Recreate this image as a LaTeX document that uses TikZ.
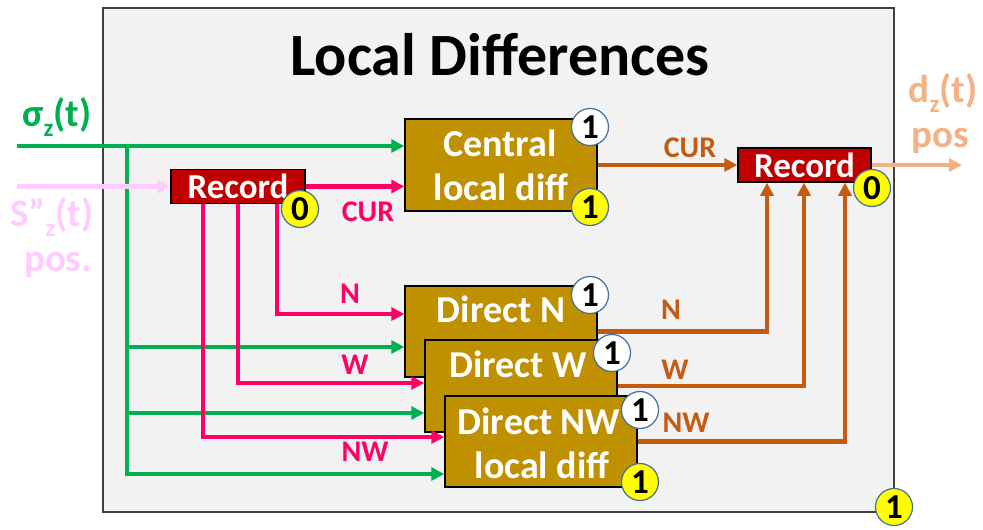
\documentclass[tikz,border=0pt]{standalone}
\usepackage{fontspec}
\setmainfont{Carlito}
\usetikzlibrary{arrows.meta,calc}

\definecolor{panel}{HTML}{F2F2F2}
\definecolor{frame}{HTML}{404040}
\definecolor{sig}{HTML}{00B050}
\definecolor{hot}{HTML}{FF0066}
\definecolor{rust}{HTML}{C55A11}
\definecolor{peach}{HTML}{F4B183}
\definecolor{lilac}{HTML}{FFCCFF}
\definecolor{gold}{HTML}{BF9000}
\definecolor{rec}{HTML}{C00000}
\definecolor{ring}{HTML}{41719C}
\definecolor{sun}{HTML}{FFFF00}

\newcommand{\fsz}[1]{\fontsize{#1}{#1}\selectfont}
\newcommand{\lowz}{\raisebox{-0.28em}{\fsz{25}z}}

\tikzset{
  wire/.style={line width=4.5pt, -{Triangle[length=13pt,width=13pt]}},
  unit/.style={draw=black, line width=1.5pt, fill=gold, minimum width=192pt, minimum height=91pt, inner sep=0pt},
  recbox/.style={draw=black, line width=1.5pt, fill=rec, text=white, font=\bfseries\fsz{35}, inner sep=0pt, minimum height=34pt},
  boxtext/.style={text=white, font=\bfseries\fsz{38}, inner sep=0pt},
  badge/.style={circle, draw=ring, line width=1.2pt, minimum size=37pt, inner sep=0pt, font=\bfseries\fsz{35}},
  wbadge/.style={badge, fill=white},
  ybadge/.style={badge, fill=sun},
  tag/.style={font=\bfseries\fsz{30}, inner sep=0pt},
  side/.style={font=\bfseries\fsz{39}, inner sep=0pt}
}

\begin{document}
\begin{tikzpicture}[x=1pt,y=-1pt]
  \useasboundingbox (0,0) rectangle (983,530);

  % panel
  \node[draw=frame, line width=1.5pt, fill=panel, minimum width=791pt, minimum height=504pt, inner sep=0pt] (panel) at (498.5,260) {};
  \node[font=\bfseries\fsz{60}, inner sep=0pt] (title) at (500,55) {Local Differences};

  % processing units
  \node[unit, minimum height=92pt] (cld) at (501,165) {};
  \node[boxtext] (cldA) at (500,143) {Central};
  \node[boxtext] (cldB) at (501,187) {local diff};

  \node[unit] (dn) at (501,331.5) {};
  \node[boxtext] (dnA) at (501,309) {Direct N};
  \node[unit, minimum height=92pt] (dw) at (521,386) {};
  \node[boxtext] (dwA) at (518,364.5) {Direct W};
  \node[unit] (dnw) at (541,441.5) {};
  \node[boxtext] (dnwA) at (539,421) {Direct NW};
  \node[boxtext] (dnwB) at (542,465) {local diff};

  % record stages
  \node[recbox, minimum width=134pt] (recA) at (238,186.5) {Record};
  \node[recbox, minimum width=133pt] (recB) at (804.5,165) {Record};

  % sigma input
  \node[side, text=sig] (sigma) at (57,117) {σ\lowz(t)};
  \coordinate (gin) at (17,146);
  \coordinate (gtap) at (127,146);
  \coordinate (gN) at (127,347);
  \coordinate (gW) at (127,413);
  \coordinate (gNW) at (127,474);
  \draw[wire, sig] (gin) -- (gin -| cld.west);
  \draw[wire, sig] (gtap) |- (gNW -| dnw.west);
  \draw[wire, sig] (gN) -- (gN -| dn.west);
  \draw[wire, sig] (gW) -- (gW -| dw.west);

  % S'' input
  \node[side, text=lilac] (sin) at (52,217) {S”\lowz(t)};
  \node[side, text=lilac] (sinpos) at (58,265) {pos.};
  \coordinate (sstart) at (17,186.5);
  \draw[wire, lilac] (sstart) -- (recA.west);

  % recorded samples to the units
  \coordinate (pN) at (277,314);
  \coordinate (pW) at (238,383);
  \coordinate (pNW) at (203,437);
  \draw[wire, hot] (recA.east) -- (recA.east -| cld.west);
  \draw[wire, hot] (recA.south -| pN) |- (pN -| dn.west);
  \draw[wire, hot] (recA.south -| pW) |- (pW -| dw.west);
  \draw[wire, hot] (recA.south -| pNW) |- (pNW -| dnw.west);
  \node[tag, text=hot] (hCUR) at (368,212) {CUR};
  \node[tag, text=hot] (hN) at (350,294) {N};
  \node[tag, text=hot] (hW) at (355,365) {W};
  \node[tag, text=hot] (hNW) at (365,452) {NW};

  % unit outputs to the second record
  \coordinate (oN) at (767,331.5);
  \coordinate (oW) at (804,386);
  \coordinate (oNW) at (845,441.5);
  \draw[wire, rust] (cld.east) -- (recB.west);
  \draw[wire, rust] (dn.east) -| (recB.south -| oN);
  \draw[wire, rust] (dw.east) -| (recB.south -| oW);
  \draw[wire, rust] (dnw.east) -| (recB.south -| oNW);
  \node[tag, text=rust] (rCUR) at (690,148) {CUR};
  \node[tag, text=rust] (rN) at (671,310) {N};
  \node[tag, text=rust] (rW) at (675,370) {W};
  \node[tag, text=rust] (rNW) at (686,423) {NW};

  % output
  \coordinate (dout) at (962,165);
  \draw[wire, peach] (recB.east) -- (dout);
  \node[side, text=peach] (dlab) at (943,93) {d\lowz(t)};
  \node[side, text=peach] (dpos) at (940,141) {pos};

  % latency badges
  \node[ybadge] (bRecA) at (300,209) {0};
  \node[ybadge] (bRecB) at (872,188) {0};
  \node[wbadge] (bCldT) at (590,127) {1};
  \node[ybadge] (bCldB) at (590,207) {1};
  \node[wbadge] (bDn) at (590,295) {1};
  \node[wbadge] (bDw) at (612,353) {1};
  \node[wbadge] (bDnw) at (640,410) {1};
  \node[ybadge] (bDnwB) at (640,482) {1};
  \node[ybadge] (bPanel) at (894,507) {1};
\end{tikzpicture}
\end{document}
